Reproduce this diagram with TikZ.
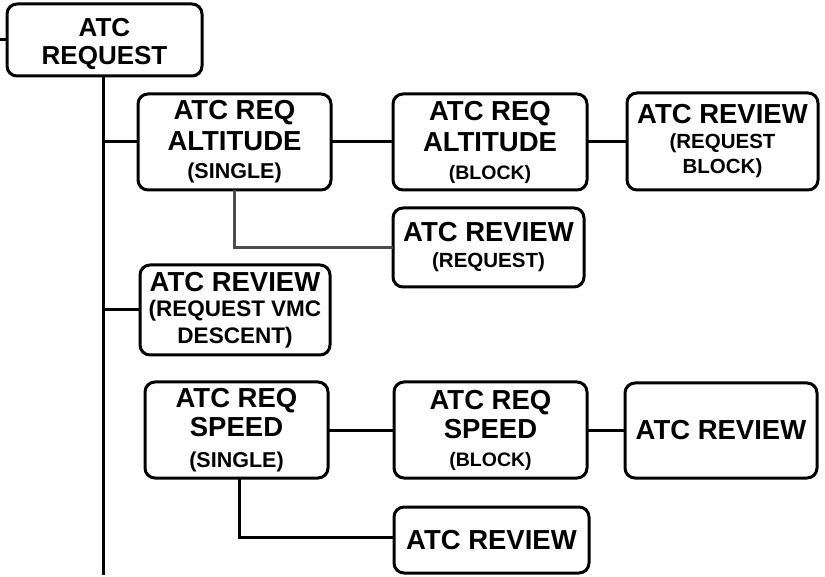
\documentclass[tikz,border=0pt]{standalone}
\usepackage{fontspec}
\setmainfont{Liberation Sans}
\tikzset{
  box/.style={draw, line width=3pt, rounded corners=10pt, inner sep=0pt, outer sep=0pt,
    align=center, font=\bfseries\fontsize{27.5}{29}\selectfont},
  link/.style={line width=3pt, draw=black},
  glink/.style={line width=3pt, draw=black!70}
}
\newcommand\subtxt[2][21.5]{{\fontsize{#1}{24}\selectfont #2}}
\begin{document}
\begin{tikzpicture}[x=1pt,y=-1pt]
\useasboundingbox (0,0) rectangle (825,577);
% nodes
\node[box, minimum width=195pt, minimum height=72pt, font=\bfseries\fontsize{26}{29}\selectfont] (req) at (104.5,40) {\rule{0pt}{26pt}ATC\\[-1pt]REQUEST};
\node[box, minimum width=193pt, minimum height=96pt] (alts) at (234.5,142) {ATC REQ\\[2pt]ALTITUDE\\[-1pt]\subtxt{(SINGLE)}};
\node[box, minimum width=194pt, minimum height=96pt] (altb) at (490,142) {ATC REQ\\[2pt]ALTITUDE\\[-1pt]\subtxt[19.5]{(BLOCK)}};
\node[box, minimum width=191pt, minimum height=97pt] (revrb) at (722.5,141.5) {ATC REVIEW\\[-4pt]\subtxt[20.5]{(REQUEST}\\[-4pt]\subtxt[20.5]{BLOCK)}};
\node[box, minimum width=191pt, minimum height=79pt] (revreq) at (488.5,247.5) {ATC REVIEW\\[-3pt]\subtxt[20.5]{(REQUEST)}};
\node[box, minimum width=190pt, minimum height=90pt] (vmc) at (235,310) {ATC REVIEW\\[-4pt]\subtxt[22.5]{(REQUEST VMC}\\[-2pt]\subtxt[22.5]{DESCENT)}};
\node[box, minimum width=183pt, minimum height=96pt] (spds) at (236.5,430) {ATC REQ\\[0pt]SPEED\\[2pt]\subtxt{(SINGLE)}};
\node[box, minimum width=193pt, minimum height=96pt] (spdb) at (490.5,430) {ATC REQ\\[0pt]SPEED\\[-1pt]\subtxt[19.5]{(BLOCK)}};
\node[box, minimum width=192pt, minimum height=95pt] (rev1) at (721,430.5) {ATC REVIEW};
\node[box, minimum width=195pt, minimum height=66pt] (rev2) at (491.5,540) {ATC REVIEW};
% trunk and free ends
\coordinate (lin) at (0,40);
\coordinate (tend) at (103,575);
\coordinate (t1) at (103,142);
\coordinate (t2) at (103,310);
\draw[link] (lin) -- (req.west);
\draw[link] (req.south -| tend) -- (tend);
\draw[link] (t1) -- (alts.west);
\draw[link] (t2) -- (vmc.west);
\draw[link] (alts.east) -- (altb.west);
\draw[link] (altb.east) -- (revrb.west |- altb.east);
\draw[glink] (alts.south) |- (revreq.west);
\draw[link] (spds.east) -- (spdb.west);
\draw[link] (spdb.east) -- (rev1.west |- spdb.east);
\draw[link] ([xshift=2.5pt]spds.south) |- ([yshift=3pt]rev2.west);
\end{tikzpicture}
\end{document}
